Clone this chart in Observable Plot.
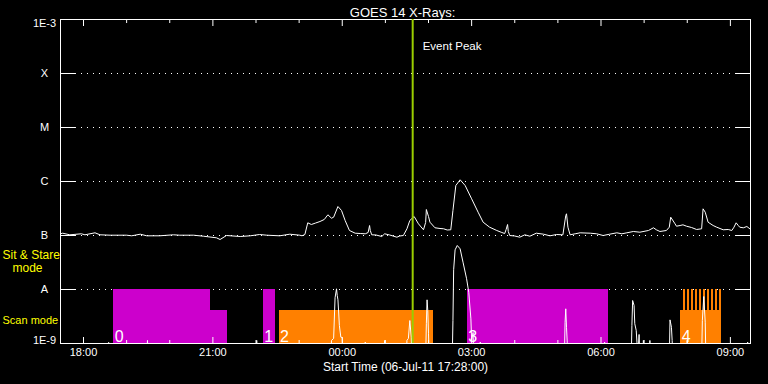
<!DOCTYPE html>
<html><head><meta charset="utf-8">
<script src="https://cdn.jsdelivr.net/npm/d3@7"></script>
<script src="https://cdn.jsdelivr.net/npm/@observablehq/plot@0.6"></script>
<style>html,body{margin:0;padding:0;background:#000;}</style>
</head><body><div id="chart"></div>
<script>
// ---------- data ----------
const title = "GOES 14 X-Rays:";
const xLabel = "Start Time (06-Jul-11 17:28:00)";
const startTime = "17:28";
const endTime = "09:28";
const eventPeakTime = "01:38";
const eventPeakLabel = "Event Peak";

const yTickValues = [1e-9, 1e-8, 1e-7, 1e-6, 1e-5, 1e-4, 1e-3];
const yTickLabels = ["1E-9", "A", "B", "C", "M", "X", "1E-3"];
const gridLevels = [1e-8, 1e-7, 1e-6, 1e-5, 1e-4];
const xMajorTicks = ["18:00", "21:00", "00:00", "03:00", "06:00", "09:00"];
const xMinorTicks = ["19:00", "20:00", "22:00", "23:00", "01:00", "02:00", "04:00", "05:00", "07:00", "08:00"];

// GOES 1-8 A flux (W/m^2)
const longTime = ["17:28","17:31","17:41","17:57","18:02","18:16","18:23","18:37","19:00","19:07","19:19","19:28","19:46","20:05","20:14","20:33","20:47","21:05","21:10","21:19","21:38","21:52","22:05","22:15","22:33","22:47","23:01","23:04","23:08","23:12","23:17","23:23","23:29","23:35","23:40","23:45","23:48","23:54","23:59","00:04","00:10","00:18","00:25","00:32","00:36","00:38","00:39","00:41","00:47","00:55","00:59","01:06","01:16","01:20","01:25","01:30","01:34","01:40","01:46","01:53","01:56","01:57","02:00","02:02","02:09","02:16","02:21","02:26","02:31","02:34","02:38","02:44","02:51","03:00","03:09","03:16","03:25","03:35","03:42","03:46","03:48","03:50","03:51","03:53","04:00","04:07","04:14","04:21","04:30","04:40","04:49","04:58","05:07","05:11","05:12","05:14","05:17","05:24","05:31","05:45","05:54","06:03","06:12","06:22","06:29","06:36","06:45","06:54","07:06","07:13","07:17","07:22","07:31","07:35","07:37","07:43","07:45","07:50","07:54","07:59","08:06","08:13","08:20","08:22","08:25","08:29","08:36","08:41","08:50","08:57","09:02","09:05","09:08","09:11","09:13","09:18","09:23","09:27"];
const longFlux = [1.075e-7,1.103e-7,1.03e-7,1.075e-7,1.03e-7,1.122e-7,1.03e-7,1.013e-7,1.013e-7,9.87e-8,1.057e-7,9.87e-8,9.87e-8,1.03e-7,1.013e-7,1.013e-7,9.7e-8,9.06e-8,8.43e-8,1.0e-7,9.58e-8,9.87e-8,1.043e-7,1.013e-7,9.87e-8,1.057e-7,1.013e-7,9.87e-8,1.043e-7,1.718e-7,1.598e-7,1.704e-7,1.816e-7,1.979e-7,2.418e-7,2.092e-7,2.183e-7,3.44e-7,2.904e-7,1.896e-7,1.238e-7,1.103e-7,1.089e-7,1.075e-7,1.137e-7,1.531e-7,1.238e-7,1.03e-7,1.022e-7,9.58e-8,1.075e-7,1.022e-7,9.3e-8,9.79e-8,1.0e-7,1.331e-7,1.896e-7,2.249e-7,1.647e-7,1.276e-7,1.74e-7,3.03e-7,2.249e-7,1.763e-7,1.389e-7,1.348e-7,1.331e-7,1.265e-7,1.276e-7,2.904e-7,8.43e-7,1.075e-6,8.43e-7,4.78e-7,2.701e-7,1.763e-7,1.425e-7,1.238e-7,1.137e-7,1.089e-7,1.292e-7,1.598e-7,1.186e-7,1.0e-7,9.79e-8,9.3e-8,1.03e-7,9.7e-8,1.103e-7,1.057e-7,9.87e-8,1.043e-7,1.03e-7,2.347e-7,2.523e-7,1.425e-7,1.03e-7,1.075e-7,1.122e-7,1.103e-7,1.075e-7,1.0e-7,1.057e-7,1.122e-7,1.075e-7,1.122e-7,1.186e-7,1.151e-7,1.238e-7,1.389e-7,1.276e-7,1.186e-7,1.238e-7,1.425e-7,2.183e-7,1.647e-7,1.486e-7,1.531e-7,1.577e-7,1.486e-7,1.406e-7,1.292e-7,1.331e-7,3.12e-7,2.701e-7,1.763e-7,1.531e-7,1.425e-7,1.276e-7,1.292e-7,1.238e-7,1.425e-7,1.718e-7,1.531e-7,1.425e-7,1.389e-7,1.468e-7,1.331e-7];

// GOES 0.5-4 A flux (W/m^2); 5e-10 = below the plotted range
const shortTime = ["17:28","18:34","18:35","18:36","19:28","19:29","19:30","22:00","22:01","22:02","23:44","23:45","23:48","23:50","23:52","23:53","23:54","23:56","23:58","00:00","00:01","00:31","00:32","00:33","00:58","00:59","01:00","01:29","01:30","01:32","01:34","01:36","01:37","01:56","01:57","01:58","01:59","02:00","02:01","02:33","02:34","02:35","02:37","02:40","02:44","02:48","02:53","02:56","02:59","03:00","03:02","03:03","03:11","03:12","03:13","05:09","05:10","05:11","05:12","05:13","05:14","06:04","06:05","06:06","06:42","06:43","06:44","06:46","06:47","06:49","06:50","06:51","06:53","06:54","06:58","06:59","07:00","07:07","07:08","07:09","07:35","07:36","07:38","07:39","07:40","07:59","08:00","08:01","08:20","08:21","08:23","08:25","08:26","09:23","09:24","09:25","09:27"];
const shortFlux = [5e-10,5e-10,1.05e-9,5e-10,5e-10,1.14e-9,5e-10,5e-10,1.14e-9,5e-10,5e-10,1.14e-9,1.24e-9,7.02e-9,1.03e-8,7.74e-9,6.44e-9,2.15e-9,1.31e-9,1.29e-9,5e-10,5e-10,1.06e-9,5e-10,5e-10,1.14e-9,5e-10,5e-10,1.14e-9,1.24e-9,2.66e-9,1.31e-9,5e-10,5e-10,2.32e-9,6.44e-9,4.08e-9,1.51e-9,5e-10,5e-10,2.66e-9,2.32e-8,5.43e-8,6.53e-8,5.67e-8,3.21e-8,1.58e-8,8.91e-9,2.86e-9,1.14e-9,1.6e-9,5e-10,5e-10,1.06e-9,5e-10,5e-10,2.48e-9,4.39e-9,2.0e-9,1.06e-9,5e-10,5e-10,1.06e-9,5e-10,5e-10,2.15e-9,6.26e-9,5.06e-9,2.32e-9,1.74e-9,1.06e-9,5e-10,1.47e-9,5e-10,5e-10,1.14e-9,5e-10,5e-10,1.14e-9,5e-10,5e-10,2.74e-9,2.0e-9,1.14e-9,5e-10,5e-10,1.14e-9,5e-10,5e-10,2.66e-9,7.41e-9,2.48e-9,5e-10,5e-10,1.06e-9,5e-10,5e-10];

// observing blocks
const modeNames = ["Sit & Stare", "Scan"];
const modeTopFlux = [1e-8, 4.08e-9];
const blockStart = ["18:42", "20:57", "22:10", "22:32", "02:54", "07:51"];
const blockEnd = ["20:57", "21:21", "22:27", "02:07", "06:11", "08:48"];
const blockMode = ["Sit & Stare", "Scan", "Sit & Stare", "Scan", "Sit & Stare", "Scan"];
const blockProgram = ["0", "0", "1", "2", "3", "4"];
const blockType = ["A", "A", "A", "B", "A", "B"];
const rasterStart = ["07:54:25","07:59:58","08:05:32","08:11:05","08:16:39","08:22:12","08:27:46","08:33:19","08:38:53","08:44:26"];
const rasterEnd = ["07:57:55","08:03:28","08:09:02","08:14:35","08:20:09","08:25:42","08:31:16","08:36:49","08:42:23","08:47:56"];
const modeLabels = ["Sit & Stare", "mode", "Scan mode"];

// ---------- build ----------
function T(s) {
  const [h, m, sec = "0"] = s.split(":");
  const day = +h >= 17 ? 6 : 7;
  return new Date(Date.UTC(2011, 6, day, +h, +m, +sec));
}
const longData = longTime.map((t, i) => ({t: T(t), v: longFlux[i]}));
const shortData = shortTime.map((t, i) => ({t: T(t), v: shortFlux[i]}));
const blocks = blockStart.map((s, i) => ({
  start: T(s), end: T(blockEnd[i]),
  top: modeTopFlux[modeNames.indexOf(blockMode[i])],
  type: blockType[i], program: blockProgram[i]
}));
const labels = blocks.filter((b, i) => i === 0 || blockProgram[i - 1] !== b.program);
const rasters = rasterStart.map((s, i) => ({start: T(s), end: T(rasterEnd[i])}));
const fmt = d3.utcFormat("%H:%M");
const yFmt = d => yTickLabels[yTickValues.indexOf(d)];

const MAGENTA = "#cc00cc", ORANGE = "#ff8000", GREEN = "#9acd00";
const frameW = 768 - 60 - 18, frameH = 384 - 19 - 41;
const yAxisStyle = {tickFormat: yFmt, tickSize: 0, tickPadding: 16, textAnchor: "middle", fill: "white", fontSize: 11, label: null};

const chart = Plot.plot({
  width: 768, height: 384,
  marginLeft: 60, marginRight: 18, marginTop: 19, marginBottom: 41,
  style: {backgroundColor: "black", color: "white", fontFamily: "Liberation Sans, Arial, sans-serif"},
  x: {type: "utc", domain: [T(startTime), T(endTime)]},
  y: {type: "log", domain: [1e-9, 1e-3]},
  color: {domain: ["A", "B"], range: [MAGENTA, ORANGE]},
  marks: [
    Plot.ruleY(gridLevels, {stroke: "white", strokeDasharray: "1,5", insetLeft: 15, insetRight: 14}),
    Plot.rect(blocks, {x1: "start", x2: "end", y1: 1e-9, y2: "top", fill: "type", shapeRendering: "crispEdges"}),
    Plot.rect(rasters, {x1: "start", x2: "end", y1: modeTopFlux[1], y2: modeTopFlux[0], fill: ORANGE, shapeRendering: "crispEdges"}),
    Plot.line(longData, {x: "t", y: "v", stroke: "white", strokeWidth: 1, clip: true}),
    Plot.line(shortData, {x: "t", y: "v", stroke: "white", strokeWidth: 1, clip: true}),
    // y ticks inside frame
    Plot.ruleY(yTickValues, {stroke: "white", insetRight: frameW - 15}),
    Plot.ruleY(yTickValues, {stroke: "white", insetLeft: frameW - 14}),
    // x ticks inside frame
    Plot.ruleX(xMinorTicks, {x: T, stroke: "white", insetTop: frameH - 3}),
    Plot.ruleX(xMajorTicks, {x: T, stroke: "white", insetTop: frameH - 6}),
    Plot.ruleX(xMinorTicks, {x: T, stroke: "white", insetBottom: frameH - 4}),
    Plot.ruleX(xMajorTicks, {x: T, stroke: "white", insetBottom: frameH - 7}),
    Plot.frame({stroke: "white"}),
    Plot.ruleX([eventPeakTime], {x: T, stroke: GREEN, strokeWidth: 2}),
    Plot.text([eventPeakTime], {x: T, frameAnchor: "top", dy: 22, dx: 10, textAnchor: "start", text: () => eventPeakLabel, fill: "white", fontSize: 11.5}),
    Plot.text(labels, {x: "start", y: 1e-9, text: "program", textAnchor: "start", lineAnchor: "bottom", dx: 1, dy: -2, fill: "white", fontSize: 16}),
    Plot.axisY(yTickValues.slice(1, -1), yAxisStyle),
    Plot.axisY([yTickValues[0]], {...yAxisStyle, dy: -3}),
    Plot.axisY([yTickValues[yTickValues.length - 1]], {...yAxisStyle, dy: 4}),
    Plot.axisX(xMajorTicks.map(T), {tickFormat: fmt, tickSize: 0, tickPadding: 5, fill: "white", fontSize: 11, label: null}),
    Plot.text([title], {frameAnchor: "top", dy: -12, dx: -3, text: d => d, fill: "white", fontSize: 13}),
    Plot.text([xLabel], {frameAnchor: "bottom", dy: 27, text: d => d, fill: "white", fontSize: 12}),
    Plot.text([modeLabels[0]], {frameAnchor: "bottom-left", dx: -58, dy: -84.5, text: d => d, textAnchor: "start", fill: "yellow", fontSize: 12}),
    Plot.text([modeLabels[1]], {frameAnchor: "bottom-left", dx: -48, dy: -72, text: d => d, textAnchor: "start", fill: "yellow", fontSize: 12}),
    Plot.text([modeLabels[2]], {frameAnchor: "bottom-left", dx: -58, dy: -19.5, text: d => d, textAnchor: "start", fill: "yellow", fontSize: 11})
  ]
});
document.getElementById("chart").appendChild(chart);
</script>
</body></html>
